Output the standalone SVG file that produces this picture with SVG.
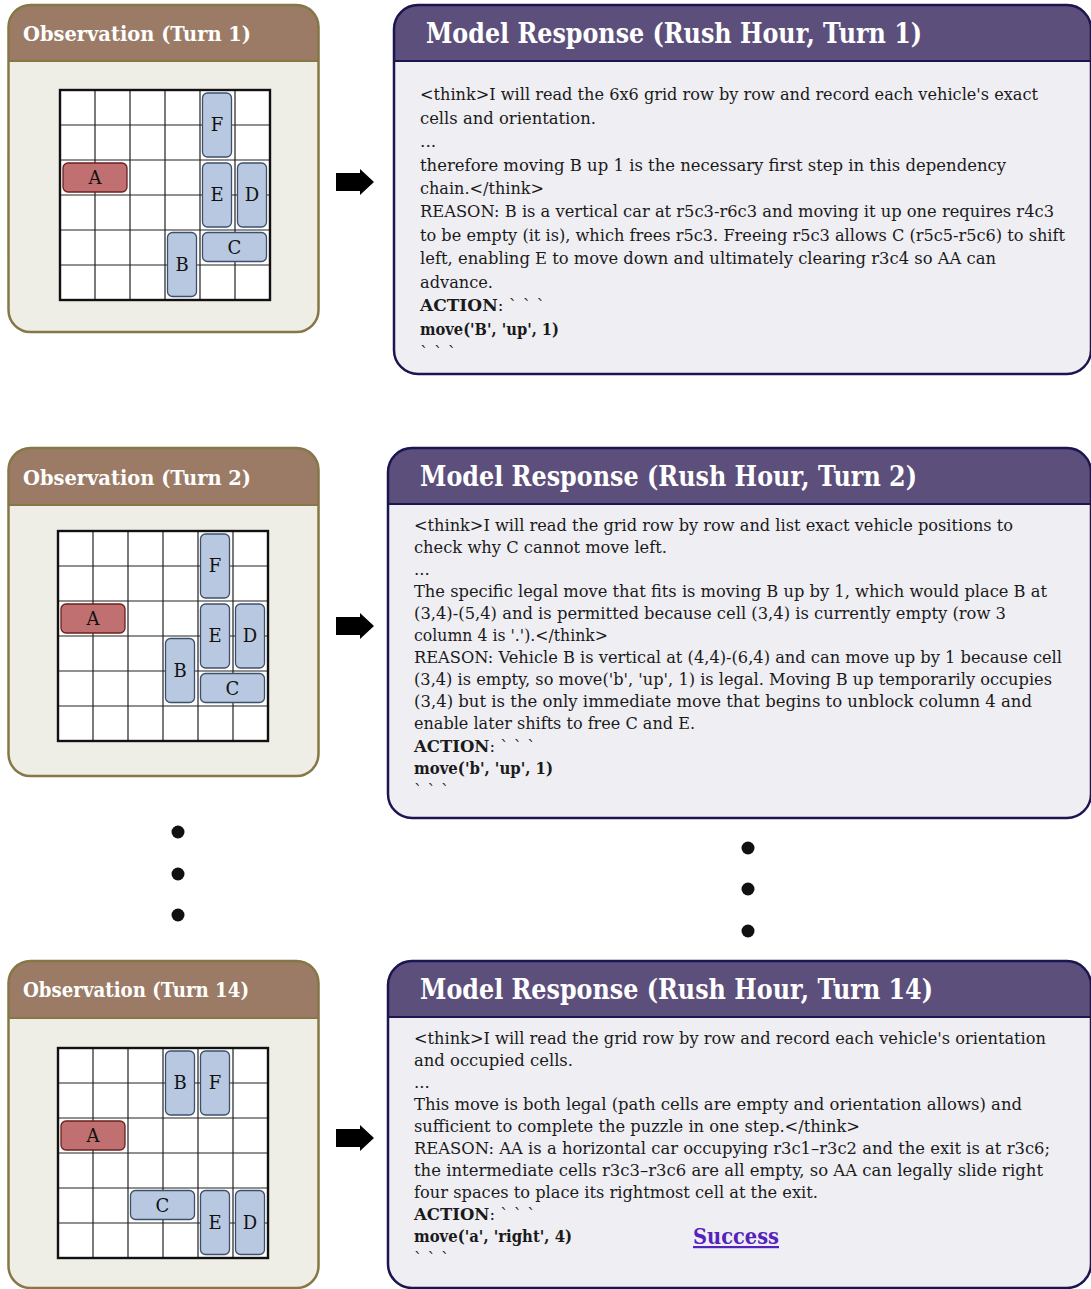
<svg xmlns="http://www.w3.org/2000/svg" width="1091" height="1289" viewBox="0 0 1091 1289">
<style>
.obsBody{fill:#efeee6}
.obsHead{fill:#9b7b65}
.obsBorder{fill:none;stroke:#857746;stroke-width:2.5}
.resBody{fill:#efeef3}
.resHead{fill:#5d4f7b}
.resBorder{fill:none;stroke:#1c1650;stroke-width:2.5}
.obsTitle{font-family:"DejaVu Serif",serif;font-weight:bold;font-size:20.5px;fill:#ffffff}
.resTitle{font-family:"DejaVu Serif",serif;font-weight:bold;font-size:27px;fill:#ffffff}
.body{font-family:"DejaVu Serif",serif;font-size:17px;fill:#1a1a1a}
.body2{font-family:"DejaVu Serif",serif;font-size:16.5px;fill:#1a1a1a}
.b{font-weight:bold}
.gridbg{fill:#ffffff}
.gline{stroke:#222222;stroke-width:1.2}
.gborder{fill:none;stroke:#111111;stroke-width:2.4}
.car{fill:#b7c8e0;stroke:#3e4f6b;stroke-width:1.3}
.red{fill:#c07070;stroke:#6b1f1f;stroke-width:1.3}
.lab{font-family:"DejaVu Serif",serif;font-size:18px;fill:#111111;text-anchor:middle}
.dot{fill:#111111}
.arrow{fill:#000000}
.succ{font-family:"DejaVu Serif",serif;font-weight:bold;font-size:22px;fill:#5522bb;text-decoration:underline}
</style>
<defs>
<g id="grid">
<rect x="0" y="0" width="210" height="210" class="gridbg"/>
<path class="gline" d="M35,0V210M70,0V210M105,0V210M140,0V210M175,0V210M0,35H210M0,70H210M0,105H210M0,140H210M0,175H210"/>
<rect x="0" y="0" width="210" height="210" class="gborder"/>
</g>
</defs>

<!-- Observation Turn 1 -->
<g id="obs1">
<rect x="8.5" y="5" width="310" height="327" rx="22" class="obsBody"/>
<path d="M8.5,61V27A22,22 0 0 1 30.5,5H296.5A22,22 0 0 1 318.5,27V61Z" class="obsHead"/>
<line x1="8.5" y1="61" x2="318.5" y2="61" stroke="#857746" stroke-width="2"/>
<rect x="8.5" y="5" width="310" height="327" rx="22" class="obsBorder"/>
<text x="23" y="40.5" class="obsTitle" textLength="228" lengthAdjust="spacingAndGlyphs">Observation (Turn 1)</text>
<g transform="translate(60,90)">
<use href="#grid"/>
<rect x="142.5" y="3" width="29" height="64" rx="5" class="car"/><text x="157" y="41" class="lab">F</text>
<rect x="3" y="73" width="64" height="29" rx="5" class="red"/><text x="35" y="94" class="lab">A</text>
<rect x="142.5" y="73" width="29" height="64" rx="5" class="car"/><text x="157" y="111" class="lab">E</text>
<rect x="177.5" y="73" width="29" height="64" rx="5" class="car"/><text x="192" y="111" class="lab">D</text>
<rect x="142.5" y="142.5" width="64" height="29" rx="5" class="car"/><text x="174.5" y="163.5" class="lab">C</text>
<rect x="107.5" y="142.5" width="29" height="64" rx="5" class="car"/><text x="122" y="181" class="lab">B</text>
</g>
</g>

<!-- Response Turn 1 -->
<g id="res1">
<rect x="394" y="5" width="697" height="369" rx="24" class="resBody"/>
<path d="M394,61V29A24,24 0 0 1 418,5H1067A24,24 0 0 1 1091,29V61Z" class="resHead"/>
<line x1="394" y1="61" x2="1091" y2="61" stroke="#1c1650" stroke-width="2"/>
<rect x="394" y="5" width="697" height="369" rx="24" class="resBorder"/>
<text x="426" y="43" class="resTitle" textLength="496" lengthAdjust="spacingAndGlyphs">Model Response (Rush Hour, Turn 1)</text>
<text class="body" x="420" y="100" textLength="618" lengthAdjust="spacingAndGlyphs">&lt;think&gt;I will read the 6x6 grid row by row and record each vehicle's exact</text>
<text class="body" x="420" y="123.5" textLength="176" lengthAdjust="spacingAndGlyphs">cells and orientation.</text>
<text class="body" x="420" y="147">...</text>
<text class="body" x="420" y="170.5" textLength="586" lengthAdjust="spacingAndGlyphs">therefore moving B up 1 is the necessary first step in this dependency</text>
<text class="body" x="420" y="194" textLength="124" lengthAdjust="spacingAndGlyphs">chain.&lt;/think&gt;</text>
<text class="body" x="420" y="217" textLength="634" lengthAdjust="spacingAndGlyphs">REASON: B is a vertical car at r5c3-r6c3 and moving it up one requires r4c3</text>
<text class="body" x="420" y="240.5" style="font-size:16px" textLength="645" lengthAdjust="spacingAndGlyphs">to be empty (it is), which frees r5c3. Freeing r5c3 allows C (r5c5-r5c6) to shift</text>
<text class="body" x="420" y="264" textLength="576" lengthAdjust="spacingAndGlyphs">left, enabling E to move down and ultimately clearing r3c4 so AA can</text>
<text class="body" x="420" y="287.5" textLength="73" lengthAdjust="spacingAndGlyphs">advance.</text>
<text class="body" x="420" y="311"><tspan class="b">ACTION</tspan>: ` ` `</text>
<text class="body b" x="420" y="334.5" textLength="139" lengthAdjust="spacingAndGlyphs">move('B', 'up', 1)</text>
<text class="body" x="420" y="358">` ` `</text>
</g>

<!-- Observation Turn 2 -->
<g id="obs2">
<rect x="8.5" y="448" width="310" height="328" rx="22" class="obsBody"/>
<path d="M8.5,505V470A22,22 0 0 1 30.5,448H296.5A22,22 0 0 1 318.5,470V505Z" class="obsHead"/>
<line x1="8.5" y1="505" x2="318.5" y2="505" stroke="#857746" stroke-width="2"/>
<rect x="8.5" y="448" width="310" height="328" rx="22" class="obsBorder"/>
<text x="23" y="484.5" class="obsTitle" textLength="228" lengthAdjust="spacingAndGlyphs">Observation (Turn 2)</text>
<g transform="translate(58,531)">
<use href="#grid"/>
<rect x="142.5" y="3" width="29" height="64" rx="5" class="car"/><text x="157" y="41" class="lab">F</text>
<rect x="3" y="73" width="64" height="29" rx="5" class="red"/><text x="35" y="94" class="lab">A</text>
<rect x="142.5" y="73" width="29" height="64" rx="5" class="car"/><text x="157" y="111" class="lab">E</text>
<rect x="177.5" y="73" width="29" height="64" rx="5" class="car"/><text x="192" y="111" class="lab">D</text>
<rect x="107.5" y="107.5" width="29" height="64" rx="5" class="car"/><text x="122" y="146" class="lab">B</text>
<rect x="142.5" y="142.5" width="64" height="29" rx="5" class="car"/><text x="174.5" y="163.5" class="lab">C</text>
</g>
</g>

<!-- Response Turn 2 -->
<g id="res2">
<rect x="388" y="448" width="703" height="370" rx="24" class="resBody"/>
<path d="M388,504V472A24,24 0 0 1 412,448H1067A24,24 0 0 1 1091,472V504Z" class="resHead"/>
<line x1="388" y1="504" x2="1091" y2="504" stroke="#1c1650" stroke-width="2"/>
<rect x="388" y="448" width="703" height="370" rx="24" class="resBorder"/>
<text x="420" y="486" class="resTitle" textLength="497" lengthAdjust="spacingAndGlyphs">Model Response (Rush Hour, Turn 2)</text>
<text class="body2" x="414" y="531" textLength="599" lengthAdjust="spacingAndGlyphs">&lt;think&gt;I will read the grid row by row and list exact vehicle positions to</text>
<text class="body2" x="414" y="553" textLength="253" lengthAdjust="spacingAndGlyphs">check why C cannot move left.</text>
<text class="body2" x="414" y="575">...</text>
<text class="body2" x="414" y="597" textLength="633" lengthAdjust="spacingAndGlyphs">The specific legal move that fits is moving B up by 1, which would place B at</text>
<text class="body2" x="414" y="619" textLength="592" lengthAdjust="spacingAndGlyphs">(3,4)-(5,4) and is permitted because cell (3,4) is currently empty (row 3</text>
<text class="body2" x="414" y="641" textLength="194" lengthAdjust="spacingAndGlyphs">column 4 is '.').&lt;/think&gt;</text>
<text class="body2" x="414" y="663" textLength="648" lengthAdjust="spacingAndGlyphs">REASON: Vehicle B is vertical at (4,4)-(6,4) and can move up by 1 because cell</text>
<text class="body2" x="414" y="685" textLength="638" lengthAdjust="spacingAndGlyphs">(3,4) is empty, so move('b', 'up', 1) is legal. Moving B up temporarily occupies</text>
<text class="body2" x="414" y="707" textLength="618" lengthAdjust="spacingAndGlyphs">(3,4) but is the only immediate move that begins to unblock column 4 and</text>
<text class="body2" x="414" y="729" textLength="281" lengthAdjust="spacingAndGlyphs">enable later shifts to free C and E.</text>
<text class="body2" x="414" y="752"><tspan class="b">ACTION</tspan>: ` ` `</text>
<text class="body2 b" x="414" y="774" textLength="139" lengthAdjust="spacingAndGlyphs">move('b', 'up', 1)</text>
<text class="body2" x="414" y="796">` ` `</text>
</g>

<!-- Observation Turn 14 -->
<g id="obs3">
<rect x="8.5" y="961" width="310" height="327" rx="22" class="obsBody"/>
<path d="M8.5,1018V983A22,22 0 0 1 30.5,961H296.5A22,22 0 0 1 318.5,983V1018Z" class="obsHead"/>
<line x1="8.5" y1="1018" x2="318.5" y2="1018" stroke="#857746" stroke-width="2"/>
<rect x="8.5" y="961" width="310" height="327" rx="22" class="obsBorder"/>
<text x="23" y="996.5" class="obsTitle" textLength="226" lengthAdjust="spacingAndGlyphs">Observation (Turn 14)</text>
<g transform="translate(58,1048)">
<use href="#grid"/>
<rect x="107.5" y="3" width="29" height="64" rx="5" class="car"/><text x="122" y="41" class="lab">B</text>
<rect x="142.5" y="3" width="29" height="64" rx="5" class="car"/><text x="157" y="41" class="lab">F</text>
<rect x="3" y="73" width="64" height="29" rx="5" class="red"/><text x="35" y="94" class="lab">A</text>
<rect x="72.5" y="142.5" width="64" height="29" rx="5" class="car"/><text x="104.5" y="163.5" class="lab">C</text>
<rect x="142.5" y="142.5" width="29" height="64" rx="5" class="car"/><text x="157" y="181" class="lab">E</text>
<rect x="177.5" y="142.5" width="29" height="64" rx="5" class="car"/><text x="192" y="181" class="lab">D</text>
</g>
</g>

<!-- Response Turn 14 -->
<g id="res3">
<rect x="388" y="961" width="703" height="327" rx="24" class="resBody"/>
<path d="M388,1017V985A24,24 0 0 1 412,961H1067A24,24 0 0 1 1091,985V1017Z" class="resHead"/>
<line x1="388" y1="1017" x2="1091" y2="1017" stroke="#1c1650" stroke-width="2"/>
<rect x="388" y="961" width="703" height="327" rx="24" class="resBorder"/>
<text x="420" y="999" class="resTitle" textLength="513" lengthAdjust="spacingAndGlyphs">Model Response (Rush Hour, Turn 14)</text>
<text class="body2" x="414" y="1044" textLength="632" lengthAdjust="spacingAndGlyphs">&lt;think&gt;I will read the grid row by row and record each vehicle's orientation</text>
<text class="body2" x="414" y="1066" textLength="159" lengthAdjust="spacingAndGlyphs">and occupied cells.</text>
<text class="body2" x="414" y="1088">...</text>
<text class="body2" x="414" y="1110" textLength="608" lengthAdjust="spacingAndGlyphs">This move is both legal (path cells are empty and orientation allows) and</text>
<text class="body2" x="414" y="1132" textLength="446" lengthAdjust="spacingAndGlyphs">sufficient to complete the puzzle in one step.&lt;/think&gt;</text>
<text class="body2" x="414" y="1154" textLength="636" lengthAdjust="spacingAndGlyphs">REASON: AA is a horizontal car occupying r3c1–r3c2 and the exit is at r3c6;</text>
<text class="body2" x="414" y="1176" textLength="629" lengthAdjust="spacingAndGlyphs">the intermediate cells r3c3–r3c6 are all empty, so AA can legally slide right</text>
<text class="body2" x="414" y="1198" textLength="404" lengthAdjust="spacingAndGlyphs">four spaces to place its rightmost cell at the exit.</text>
<text class="body2" x="414" y="1220"><tspan class="b">ACTION</tspan>: ` ` `</text>
<text class="body2 b" x="414" y="1242" textLength="158" lengthAdjust="spacingAndGlyphs">move('a', 'right', 4)</text>
<text class="body2" x="414" y="1264">` ` `</text>
<text class="succ" x="693" y="1244" textLength="86" lengthAdjust="spacingAndGlyphs">Success</text>
</g>

<!-- Connectors -->
<g id="connectors">
<path class="arrow" d="M336,173L360,173L360,169L374,182L360,195L360,191L336,191Z"/>
<path class="arrow" d="M336,617L360,617L360,613L374,626L360,639L360,635L336,635Z"/>
<path class="arrow" d="M336,1129L360,1129L360,1125L374,1138L360,1151L360,1147L336,1147Z"/>
</g>

<g id="dots">
<circle class="dot" cx="178" cy="832" r="6.5"/>
<circle class="dot" cx="178" cy="874" r="6.5"/>
<circle class="dot" cx="178" cy="915" r="6.5"/>
<circle class="dot" cx="748" cy="848" r="6.5"/>
<circle class="dot" cx="748" cy="889" r="6.5"/>
<circle class="dot" cx="748" cy="931" r="6.5"/>
</g>
</svg>
